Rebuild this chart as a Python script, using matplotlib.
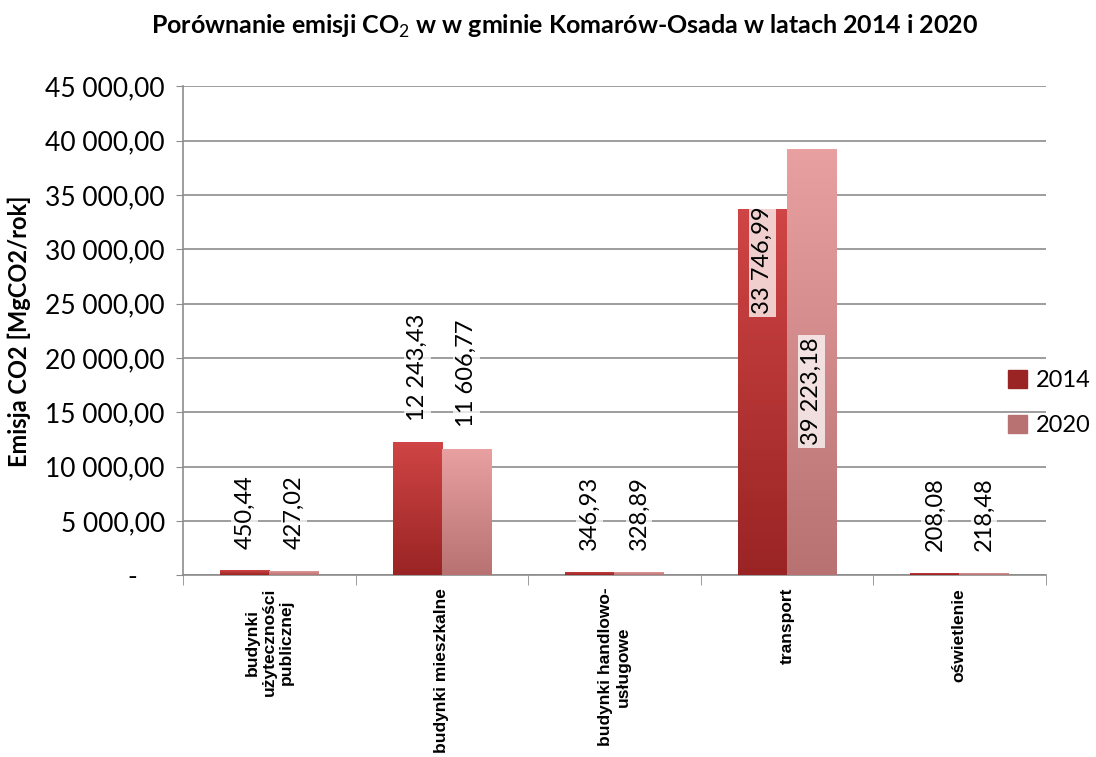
import matplotlib.pyplot as plt
import matplotlib.patches as mpatches
import numpy as np

plt.rcParams['font.family'] = ['Lato', 'DejaVu Sans']
plt.rcParams['mathtext.fontset'] = 'custom'
plt.rcParams['mathtext.rm'] = 'Lato'
plt.rcParams['mathtext.bf'] = 'Lato:bold'

categories = ['budynki\nużyteczności\npublicznej', 'budynki mieszkalne',
              'budynki handlowo-\nusługowe', 'transport', 'oświetlenie']
years = ['2014', '2020']
em_2014 = [450.44, 12243.43, 346.93, 33746.99, 208.08]
em_2020 = [427.02, 11606.77, 328.89, 39223.18, 218.48]
labels_2014 = ['450,44', '12 243,43', '346,93', '33 746,99', '208,08']
labels_2020 = ['427,02', '11 606,77', '328,89', '39 223,18', '218,48']
yticks = [0, 5000, 10000, 15000, 20000, 25000, 30000, 35000, 40000, 45000]


def fmt(v):
    if v == 0:
        return '-    '
    return f'{v:,.2f}'.replace(',', ' ').replace('.', ',')


fig = plt.figure(figsize=(10.96, 7.57), dpi=100)
ax = fig.add_axes([0.167, 0.240, 0.787, 0.646])

x = np.arange(len(categories))
w = 0.285
cols = [('#d04545', '#9a2424'), ('#e9a0a0', '#b87272')]

b1 = ax.bar(x - w / 2, em_2014, w, color=cols[0][1], edgecolor='#7a1c1c', linewidth=0.6, zorder=3)
b2 = ax.bar(x + w / 2, em_2020, w, color=cols[1][1], edgecolor='#9a5a5a', linewidth=0.6, zorder=3)

# simple vertical gradient on each bar
grad = np.linspace(0, 1, 100).reshape(-1, 1)
for bars, (c_top, c_bot) in zip([b1, b2], cols):
    cmap = plt.matplotlib.colors.LinearSegmentedColormap.from_list('g', [c_bot, c_top])
    for p in bars:
        x0, y0 = p.get_x(), p.get_y()
        im = ax.imshow(grad, cmap=cmap, aspect='auto', origin='lower',
                       extent=[x0, x0 + p.get_width(), y0, y0 + p.get_height()], zorder=3.5)
        im.set_clip_path(p)

ax.set_ylim(0, 45000)
ax.set_xlim(-0.5, len(categories) - 0.5)
ax.set_yticks(yticks)
ax.set_yticklabels([fmt(v) for v in yticks], fontsize=19)
ax.yaxis.grid(True, color='#8c8c8c', linewidth=1.2, zorder=0)
ax.set_axisbelow(True)

ax.set_xticks(x)
ax.set_xticklabels(categories, rotation=90, fontsize=12.5, fontweight='bold',
                   multialignment='center', fontfamily=['Liberation Sans', 'DejaVu Sans'])
ax.tick_params(axis='x', which='major', length=0, pad=9)
ax.set_xticks(np.arange(-0.5, len(categories), 1), minor=True)
ax.tick_params(axis='x', which='minor', length=7, color='#8c8c8c')
ax.tick_params(axis='y', length=5, color='#8c8c8c', pad=8)

for s in ['top', 'right']:
    ax.spines[s].set_visible(False)
for s in ['left', 'bottom']:
    ax.spines[s].set_color('#8c8c8c')
    ax.spines[s].set_linewidth(1.2)

box = dict(facecolor='white', alpha=0.75, edgecolor='none', pad=2)
for i in range(len(categories)):
    for val, lab, off in [(em_2014[i], labels_2014[i], -w / 2), (em_2020[i], labels_2020[i], w / 2)]:
        if val > 30000:
            ypos = 29000 if off < 0 else 16900
            va = 'center'
        else:
            ypos = val + 2000
            va = 'bottom'
        ax.text(x[i] + off, ypos, lab, rotation=90, ha='center', va=va,
                fontsize=17, bbox=box, zorder=5)

ax.set_ylabel('Emisja CO2 [MgCO2/rok]', fontsize=17, fontweight='bold', labelpad=10)

fig.text(0.515, 0.965, r'Porównanie emisji CO$_2$ w w gminie Komarów-Osada w latach 2014 i 2020',
         ha='center', va='center', fontsize=18, fontweight='bold')

handles = [mpatches.Patch(facecolor=c[1], edgecolor=c[1]) for c in cols]
fig.legend(handles, years, loc='center left', bbox_to_anchor=(0.9, 0.468),
           frameon=False, fontsize=17, handlelength=0.8, handleheight=0.8,
           handletextpad=0.4, labelspacing=1.0)

fig.savefig('out.png', dpi=100)
